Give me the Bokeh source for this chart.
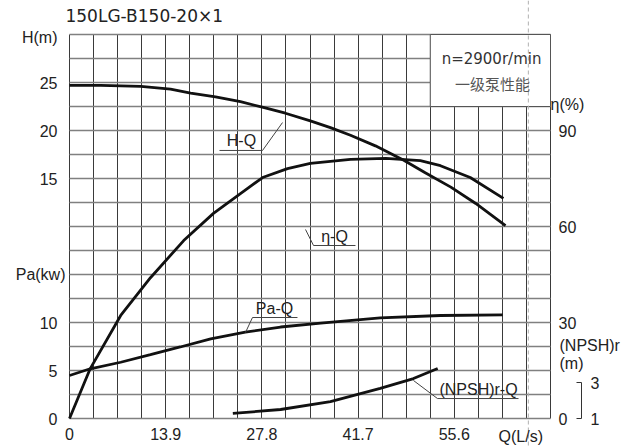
from bokeh.plotting import figure
from bokeh.models import Range1d, LinearAxis, FixedTicker, Label, Span
from bokeh.embed import file_html
from bokeh.resources import INLINE

# ---------------- data ----------------
q_h = [0, 4.5, 10.3, 14.6, 17.5, 21.1, 24.7, 28.0, 31.2, 34.8, 37.7, 40.6, 44.2, 48.3, 51.4, 55.1, 58.7, 63.0]
head = [24.7, 24.7, 24.6, 24.3, 23.9, 23.5, 23.0, 22.4, 21.8, 21.0, 20.3, 19.5, 18.4, 16.9, 15.6, 14.1, 12.4, 10.1]

q_eta = [0, 3.0, 7.4, 11.7, 16.5, 20.8, 24.7, 27.9, 31.5, 34.8, 40.6, 45.7, 50.7, 53.6, 57.9, 62.7]
eta = [0, 15.6, 32.2, 44.0, 55.6, 64.1, 70.3, 75.3, 78.1, 79.7, 81.0, 81.3, 80.6, 79.0, 75.3, 68.8]

q_pa = [0, 3.0, 7.4, 11.7, 16.0, 20.4, 25.4, 30.5, 36.3, 44.9, 53.6, 62.6]
power = [4.48, 5.18, 5.86, 6.65, 7.45, 8.30, 8.99, 9.53, 9.93, 10.49, 10.73, 10.80]

q_npsh = [23.6, 30.5, 37.7, 44.9, 49.7, 53.2]
npsh = [1.28, 1.50, 1.94, 2.67, 3.22, 3.78]

q_ticks = [0, 13.9, 27.8, 41.7, 55.6]
h_ticks = [15, 20, 25]
pa_ticks = [0, 5, 10]
eta_ticks = [0, 30, 60, 90]
npsh_ticks = [1, 3]

title_text = "150LG-B150-20×1"
speed_text = "n=2900r/min"
stage_text = "一级泵性能"

# ---------------- layout ----------------
W, HGT = 631, 447                 # canvas
L, R, T, B = 69, 550, 34, 418     # chart (grid) area inside the canvas, in pixels
Q_MAX = 69.5                      # 20 grid columns
COL = 3.475
H_MIN, H_MAX = -10, 30
PA_MIN, PA_MAX = 0, 40
ETA_MIN, ETA_MAX = 0, 120
NPSH_MIN, NPSH_MAX = 1, 1 + 384 / 18
FONT = "Liberation Sans"
WIDE_FONT = "DejaVu Sans"
TXT = "#222222"


def xr(lo, hi):
    k = (hi - lo) / (R - L)
    return Range1d(lo - k * L, hi + k * (W - R))


def yr(lo, hi):
    k = (hi - lo) / (B - T)
    return Range1d(lo - k * (HGT - B), hi + k * T)


p = figure(width=W, height=HGT, output_backend="svg", toolbar_location=None,
           x_range=xr(0, Q_MAX), y_range=yr(H_MIN, H_MAX),
           min_border=0, min_border_left=0, min_border_right=0,
           min_border_top=0, min_border_bottom=0)
p.extra_y_ranges = {
    "pa": yr(PA_MIN, PA_MAX),
    "eta": yr(ETA_MIN, ETA_MAX),
    "npsh": yr(NPSH_MIN, NPSH_MAX),
}
p.background_fill_color = "white"
p.border_fill_color = "white"
p.outline_line_color = None

# grid, limited to the chart area
p.xgrid.ticker = FixedTicker(ticks=[i * COL for i in range(21)])
p.xgrid.cross_bounds = (H_MIN, H_MAX)
p.ygrid.ticker = FixedTicker(ticks=[H_MIN + 2.5 * i for i in range(17)])
p.ygrid.cross_bounds = (0, Q_MAX)
p.xgrid.grid_line_color = "#3a3a3a"
p.xgrid.grid_line_width = 1
p.ygrid.grid_line_color = "#808080"
p.ygrid.grid_line_width = 1.6


def style_axis(ax, size="16px"):
    ax.axis_line_color = None
    ax.major_tick_line_color = None
    ax.minor_tick_line_color = None
    ax.major_tick_in = 0
    ax.major_tick_out = 0
    ax.minor_tick_in = 0
    ax.minor_tick_out = 0
    ax.major_label_text_font = FONT
    ax.major_label_text_font_size = size
    ax.major_label_text_color = TXT


# bottom axis (Q)
xa = p.xaxis[0]
style_axis(xa)
xa.fixed_location = H_MIN
xa.ticker = FixedTicker(ticks=q_ticks)
xa.major_label_overrides = {t: f"{t:g}" for t in q_ticks}
xa.major_label_standoff = 9

# left axis: Pa (0,5,10) and H (15,20,25) share one column of labels
ya = p.yaxis[0]
style_axis(ya)
ya.fixed_location = 0
pa_in_h = [t + H_MIN - PA_MIN for t in pa_ticks]
ya.ticker = FixedTicker(ticks=pa_in_h + h_ticks)
overrides = {h: str(t) for h, t in zip(pa_in_h, pa_ticks)}
overrides.update({t: str(t) for t in h_ticks})
ya.major_label_overrides = overrides
ya.major_label_standoff = 12

# right axis: efficiency
ea = LinearAxis(y_range_name="eta", ticker=FixedTicker(ticks=eta_ticks), fixed_location=Q_MAX)
style_axis(ea)
ea.major_label_standoff = 8
p.add_layout(ea, "right")

# NPSH bracket axis
na = LinearAxis(y_range_name="npsh", ticker=FixedTicker(ticks=npsh_ticks),
                bounds=(1, 3), fixed_location=73.98)
style_axis(na)
na.axis_line_color = "#333333"
na.major_tick_line_color = "#333333"
na.major_tick_in = 5
na.major_label_standoff = 9
p.add_layout(na, "right")

# white box with speed text
p.quad(left=[15 * COL], right=[Q_MAX], bottom=[22.5], top=[H_MAX],
       fill_color="white", line_color="#555555", line_width=1)

# light dashed guide through the whole picture
p.add_layout(Span(location=66.3, dimension="height", line_color="#b0b0b0",
                  line_width=1, line_dash="4 3"))

# curves
CURVE = "#111111"
p.line(q_h, head, line_color=CURVE, line_width=2.8)
p.line(q_eta, eta, line_color=CURVE, line_width=2.8, y_range_name="eta")
p.line(q_pa, power, line_color=CURVE, line_width=2.8, y_range_name="pa")
p.line(q_npsh, npsh, line_color=CURVE, line_width=2.8, y_range_name="npsh")

# leader lines + underlines of curve names
seg_x0 = [21.67, 27.89, 35.26, 35.26, 26.44, 26.44, 53.17, 53.17]
seg_y0 = [17.92, 17.92, 8.02, 8.02, 0.52, 0.52, -7.92, -7.92]
seg_x1 = [27.89, 30.78, 41.32, 34.10, 32.94, 25.43, 64.88, 49.70]
seg_y1 = [17.92, 20.83, 8.02, 9.69, 0.52, -1.04, -7.92, -6.04]
p.segment(seg_x0, seg_y0, seg_x1, seg_y1, line_color="#444444", line_width=1)


def lab(x, y, text, align="center", size="16px", color=TXT, font=FONT):
    p.add_layout(Label(x=x, y=y, text=text, text_align=align, text_baseline="middle",
                       text_font_size=size, text_color=color, text_font=font))


lab(-0.58, 31.9, title_text, align="left", size="17px", font=WIDE_FONT)
lab(-1.73, 29.69, "H(m)", align="right")
lab(-0.58, 5.0, "Pa(kw)", align="right")
lab(69.5, 22.71, "η(%)", align="left")
lab(70.8, -2.40, "(NPSH)r", align="left")
lab(70.8, -4.27, "(m)", align="left")
lab(61.99, -11.875, "Q(L/s)", align="left")
lab(24.85, 18.96, "H-Q")
lab(38.29, 8.96, "η-Q")
lab(29.62, 1.46, "Pa-Q")
lab(59.10, -6.98, "(NPSH)r-Q")
lab(60.98, 27.40, speed_text, size="15px", color="#333333", font=WIDE_FONT)
lab(61.12, 24.90, stage_text, size="15px", color="#555555", font="Noto Sans CJK SC")

open("out.html", "w").write(file_html(p, INLINE))
